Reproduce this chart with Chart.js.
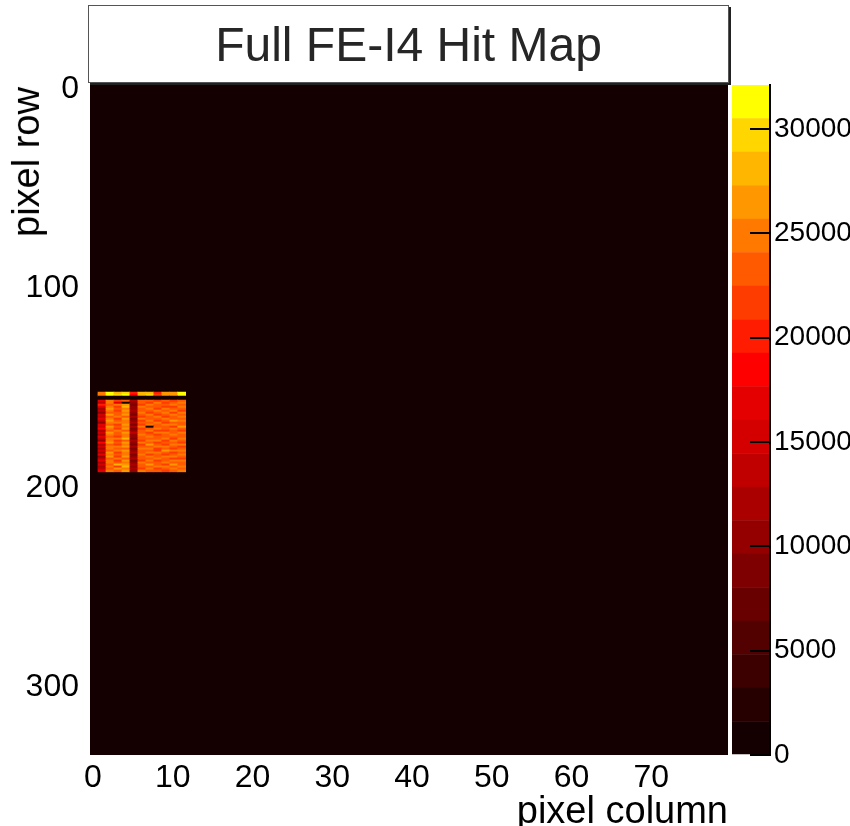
<!DOCTYPE html>
<html>
<head>
<meta charset="utf-8">
<title>Full FE-I4 Hit Map</title>
<script src="https://cdn.jsdelivr.net/npm/chart.js@4.4.1/dist/chart.umd.min.js"></script>
<style>
  html, body { margin: 0; padding: 0; background: #fff; }
  #page { position: relative; width: 850px; height: 826px; overflow: hidden;
          font-family: "Liberation Sans", Arial, Helvetica, sans-serif; }
  #mapCanvas { position: absolute; left: 0; top: 0; }
  #paletteCanvas { position: absolute; left: 732px; top: 0; }
  .title-box { position: absolute; left: 88px; top: 5px; width: 639px; height: 76px;
               border: 1px solid #555; box-shadow: 2px 2px 0 #222; background: #fff;
               display: flex; align-items: center; justify-content: center;
               font-size: 48px; color: #262626; }
  .y-title { position: absolute; right: 843px; top: 87px; transform-origin: right top;
             transform: rotate(-90deg); font-size: 38px; line-height: 38px;
             white-space: nowrap; color: #000; }
</style>
</head>
<body>
<div id="page">
  <canvas id="mapCanvas" width="850" height="826"></canvas>
  <canvas id="paletteCanvas" width="118" height="826"></canvas>
  <div class="title-box">Full FE-I4 Hit Map</div>
  <div class="y-title">pixel row</div>
</div>
<script>
// FE-I4 geometry and colour scale range
const nColumns = 80;
const nRows = 336;
const zMax = 32100;

// Tick labels
const xTickValues = [0, 10, 20, 30, 40, 50, 60, 70];
const yTickValues = [0, 100, 200, 300];
const zTickValues = [0, 5000, 10000, 15000, 20000, 25000, 30000];

// Hit region (everything else is empty)
const hitColumns = [1, 2, 3, 4, 5, 6, 7, 8, 9, 10, 11];
const hitRows = [154, 155, 156, 157, 158, 159, 160, 161, 162, 163, 164, 165, 166, 167,
  168, 169, 170, 171, 172, 173, 174, 175, 176, 177, 178, 179, 180, 181, 182, 183,
  184, 185, 186, 187, 188, 189, 190, 191, 192, 193];
const hitCounts = [
  [25500, 31500, 28500, 30200, 19800, 28200, 28800, 20500, 26500, 25800, 31000],
  [24800, 31200, 29200, 30800, 18500, 28600, 29400, 21500, 27000, 26200, 30600],
  [0, 0, 0, 0, 0, 0, 0, 0, 0, 0, 0],
  [0, 0, 0, 0, 0, 0, 0, 0, 0, 0, 0],
  [17600, 24200, 21800, 23400, 12200, 22800, 23900, 21200, 22600, 21800, 23100],
  [13800, 25600, 17400, 0, 10400, 23600, 22400, 24800, 21900, 22800, 24300],
  [19800, 23800, 24600, 26900, 8800, 22200, 24100, 22500, 23300, 24600, 22900],
  [16900, 25100, 22300, 27600, 11200, 24700, 22900, 23800, 21600, 22400, 25200],
  [12600, 26300, 23400, 25400, 9800, 23100, 25400, 21400, 24200, 23000, 23800],
  [14200, 24600, 21200, 26700, 12600, 22600, 23600, 24900, 22800, 25300, 22400],
  [11200, 22900, 23900, 24300, 10100, 24200, 22100, 23300, 25100, 21800, 24600],
  [15600, 25800, 22600, 25900, 8600, 23400, 24800, 22200, 23600, 24200, 23100],
  [12900, 23700, 24100, 23600, 11600, 21900, 23200, 25600, 22100, 23500, 25400],
  [17200, 24900, 21600, 26100, 9400, 24600, 22600, 23800, 24700, 22600, 22800],
  [13400, 26800, 23200, 24800, 10800, 22400, 25600, 21900, 23400, 25800, 24100],
  [10800, 24100, 25300, 25600, 12800, 23800, 23100, 24400, 21700, 23100, 23600],
  [16200, 23400, 22100, 27200, 9100, 22300, 24400, 22700, 25500, 24400, 22700],
  [14600, 25900, 23800, 24200, 11400, 24900, 0, 23600, 22900, 22100, 25800],
  [18900, 24400, 21900, 25800, 8700, 21800, 23300, 25100, 23800, 24800, 23400],
  [12200, 22600, 24700, 23500, 10900, 23700, 24900, 22400, 21600, 23300, 21900],
  [15300, 26100, 22800, 26400, 13400, 22900, 22200, 24300, 24600, 22900, 24700],
  [11600, 24700, 23600, 24900, 9900, 24400, 23700, 21800, 22700, 25600, 23200],
  [16600, 23200, 21400, 25300, 11100, 22700, 25300, 23900, 23900, 23700, 22600],
  [13100, 25400, 24900, 27400, 8900, 23900, 22800, 22600, 25300, 21900, 25100],
  [10400, 24300, 22400, 23900, 12300, 21600, 24200, 24700, 22300, 24300, 23800],
  [17800, 26600, 23300, 26200, 10300, 24800, 23500, 22100, 23700, 22700, 21600],
  [12700, 23900, 21700, 24600, 9600, 22200, 26100, 23700, 21400, 25200, 24500],
  [14900, 25200, 24300, 25700, 11900, 23500, 22700, 25300, 24400, 23600, 22300],
  [11900, 24600, 22900, 23700, 8500, 24300, 24600, 22300, 22600, 21600, 23900],
  [15900, 22800, 25100, 26600, 10600, 22500, 23000, 21500, 25800, 24500, 25600],
  [12400, 25700, 21900, 24500, 12100, 23600, 24700, 24200, 23200, 22300, 22800],
  [16400, 24200, 23600, 25200, 9300, 24100, 22400, 23100, 21800, 23900, 24200],
  [10900, 26200, 22200, 27100, 10900, 22600, 25100, 22600, 24900, 25500, 23300],
  [14100, 23600, 24600, 23800, 11800, 23200, 23600, 24800, 22500, 22100, 21700],
  [17100, 25100, 21300, 26300, 8700, 21900, 24300, 21700, 23600, 24100, 24900],
  [12100, 24400, 23800, 24400, 10500, 24500, 22900, 23400, 25200, 23300, 23500],
  [15100, 22700, 27600, 25900, 12500, 22800, 25700, 22900, 22100, 25900, 22500],
  [11300, 25600, 22400, 28100, 9700, 23700, 23300, 24600, 24200, 22600, 24400],
  [13600, 23300, 26900, 24100, 11300, 22100, 24100, 21600, 23300, 24700, 23700],
  [16100, 24800, 23100, 26500, 10200, 24600, 22600, 23900, 21900, 23400, 25300]
];

// 20-level dark body radiator palette, low to high
const paletteColors = ['#140000', '#260000', '#3c0000', '#520000', '#680000',
  '#7e0000', '#940000', '#aa0000', '#c00000', '#d40000', '#e40000', '#ff0000',
  '#ff1c00', '#ff3c00', '#ff5a00', '#ff7800', '#ff9800', '#ffb600', '#ffd600', '#ffff00'];

Chart.defaults.font.family = '"Liberation Sans", Arial, Helvetica, sans-serif';
Chart.defaults.color = '#000';
Chart.defaults.animation = false;

function colourFor(v) {
  const n = paletteColors.length;
  return paletteColors[Math.max(0, Math.min(n - 1, Math.floor(v / zMax * n)))];
}

// one floating bar per pixel cell
const cells = [];
const cellColours = [];
hitRows.forEach((row, r) => {
  hitColumns.forEach((col, c) => {
    cells.push({ x: col + 0.5, y: [row, row + 1] });
    cellColours.push(colourFor(hitCounts[r][c]));
  });
});

// empty bins are drawn in the lowest palette colour
const frameFill = {
  id: 'frameFill',
  beforeDatasetsDraw(chart) {
    const { ctx, chartArea: a } = chart;
    ctx.save();
    ctx.fillStyle = paletteColors[0];
    ctx.fillRect(a.left, a.top, a.right - a.left, a.bottom - a.top);
    ctx.restore();
  }
};

new Chart(document.getElementById('mapCanvas'), {
  type: 'bar',
  data: {
    datasets: [{
      data: cells,
      backgroundColor: cellColours,
      borderWidth: 0,
      barPercentage: 1,
      categoryPercentage: 1
    }]
  },
  options: {
    responsive: false,
    events: [],
    layout: { padding: { left: 0, right: 122, top: 85, bottom: 0 } },
    plugins: { legend: { display: false }, tooltip: { enabled: false } },
    scales: {
      x: {
        type: 'linear',
        min: 0,
        max: nColumns,
        offset: false,
        grid: { display: false, offset: false },
        border: { display: false },
        afterBuildTicks: s => { s.ticks = xTickValues.map(v => ({ value: v })); },
        afterFit: s => { s.height = 71; },
        ticks: { font: { size: 32 }, padding: -4, labelOffset: 3, maxRotation: 0 },
        title: {
          display: true,
          text: 'pixel column',
          align: 'end',
          font: { size: 38, lineHeight: 1 },
          padding: { top: 0, bottom: -6 }
        }
      },
      y: {
        type: 'linear',
        reverse: true,
        min: 0,
        max: nRows,
        grid: { display: false },
        border: { display: false },
        afterBuildTicks: s => { s.ticks = yTickValues.map(v => ({ value: v })); },
        afterFit: s => { s.width = 90; },
        ticks: { font: { size: 32 }, padding: 3, labelOffset: 4 }
      }
    }
  },
  plugins: [frameFill]
});

// colour palette axis
const bandSize = zMax / paletteColors.length;
new Chart(document.getElementById('paletteCanvas'), {
  type: 'bar',
  data: {
    labels: [''],
    datasets: paletteColors.map((col, i) => ({
      data: [[i * bandSize, (i + 1) * bandSize]],
      backgroundColor: col,
      borderWidth: 0,
      grouped: false,
      barPercentage: 1,
      categoryPercentage: 1
    }))
  },
  options: {
    responsive: false,
    events: [],
    layout: { padding: { left: 0, right: 0, top: 85, bottom: 71 } },
    plugins: { legend: { display: false }, tooltip: { enabled: false } },
    scales: {
      x: { display: false },
      y: {
        position: 'right',
        min: 0,
        max: zMax,
        afterBuildTicks: s => { s.ticks = zTickValues.map(v => ({ value: v })); },
        afterFit: s => { s.width = 80; },
        grid: { drawOnChartArea: false, drawTicks: true, tickLength: -20, color: '#000', lineWidth: 2, z: 1 },
        border: { display: true, color: '#000', width: 2, z: 1 },
        ticks: { font: { size: 28 }, padding: 24, callback: v => String(v) }
      }
    }
  }
});
</script>
</body>
</html>
